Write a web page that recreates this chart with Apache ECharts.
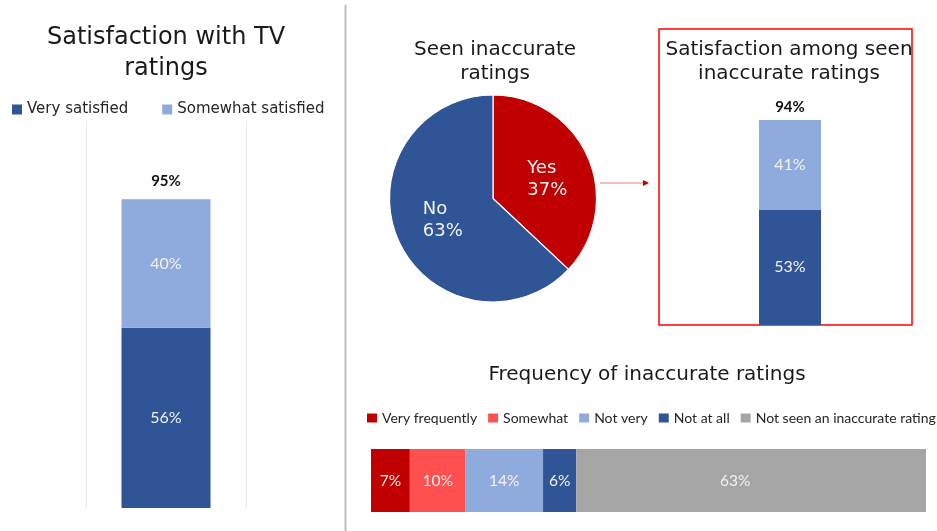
<!DOCTYPE html>
<html><head><meta charset="utf-8">
<script src="https://cdn.jsdelivr.net/npm/echarts@6/dist/echarts.min.js"></script>
<style>html,body{margin:0;padding:0;background:#fff}#c{width:937px;height:531px}</style>
</head><body><div id="c"></div>
<script>
// ---- data ----
const satCategories = ['All respondents'];
const satSeriesNames = ['Very satisfied', 'Somewhat satisfied'];
const satVery = [56];
const satSomewhat = [40];
const satTotal = [95];

const seenNames = ['Yes', 'No'];
const seenValues = [37, 63];

const seenCategories = ['Seen inaccurate ratings'];
const seenVery = [53];
const seenSomewhat = [41];
const seenTotal = [94];

const freqCategories = ['Frequency'];
const freqNames = ['Very frequently', 'Somewhat', 'Not very', 'Not at all', 'Not seen an inaccurate rating'];
const freqValues = [7, 10, 14, 6, 63];

// ---- styles ----
const DARK = '#2F5597', LIGHT = '#8FAADC', RED = '#C00000', LRED = '#FF5050', GREY = '#A5A5A5';
const freqColors = [RED, LRED, LIGHT, DARK, GREY];
const TXT = '#1a1a1a';
const SANS = 'DejaVu Sans';
const LAB = 'Lato';

const chart = echarts.init(document.getElementById('c'), null, {renderer: 'canvas'});

const inLabel = {show: true, position: 'inside', color: '#F2F2F2', fontFamily: LAB, fontSize: 16,
  formatter: p => p.value + '%'};

function stackedColumn(idx, names, very, some, total, bw, dist) {
  return [
    {type: 'bar', name: names[0], xAxisIndex: idx, yAxisIndex: idx, stack: 's' + idx, data: very,
     barWidth: bw, barGap: '-100%', itemStyle: {color: DARK}, label: inLabel},
    {type: 'bar', name: names[1], xAxisIndex: idx, yAxisIndex: idx, stack: 's' + idx, data: some,
     barWidth: bw, barGap: '-100%', itemStyle: {color: LIGHT}, label: inLabel},
    {type: 'bar', name: 'Total ' + idx, xAxisIndex: idx, yAxisIndex: idx, data: total,
     barWidth: bw, barGap: '-100%', itemStyle: {color: 'rgba(0,0,0,0)'}, silent: true,
     label: {show: true, position: 'top', distance: dist, color: '#111', fontFamily: LAB,
             fontWeight: 'bold', fontSize: 15, formatter: p => p.value + '%'}}
  ];
}

const pieOffsets = {Yes: [6, 3], No: [2, 0]};
const pieColors = {Yes: RED, No: DARK};

const series = [
  ...stackedColumn(0, satSeriesNames, satVery, satSomewhat, satTotal, 89, 14),
  ...stackedColumn(1, satSeriesNames, seenVery, seenSomewhat, seenTotal, 62, 5),
  {
    type: 'pie', name: 'Seen inaccurate ratings', center: [493, 198.5], radius: 103.5,
    startAngle: 90, clockwise: true, silent: true,
    itemStyle: {borderColor: '#fff', borderWidth: 1.2},
    labelLine: {show: false},
    label: {show: true, position: 'inside',
      formatter: p => '{t|' + p.name + '}\n{t|' + p.value + '%}',
      rich: {t: {width: 44, align: 'left', fontSize: 18, lineHeight: 22, color: '#F2F2F2', fontFamily: SANS}}},
    data: seenNames.map((n, i) => ({name: n, value: seenValues[i],
      itemStyle: {color: pieColors[n]}, label: {offset: pieOffsets[n]}}))
  },
  ...freqNames.map((n, i) => ({
    type: 'bar', name: n, xAxisIndex: 2, yAxisIndex: 2, stack: 'freq', data: [freqValues[i]],
    barWidth: 63, itemStyle: {color: freqColors[i]},
    label: {show: true, position: 'inside', color: '#F2F2F2', fontFamily: LAB, fontSize: 15.5,
      offset: i === freqNames.length - 1 ? [-16, 0] : [0, 0],
      formatter: p => p.value + '%'}
  }))
];

const option = {
  animation: false,
  backgroundColor: '#fff',
  title: [
    {text: 'Satisfaction with TV\nratings', left: 166, top: 22, textAlign: 'center', padding: 0,
     textStyle: {fontFamily: SANS, fontSize: 24, fontWeight: 'normal', color: TXT, lineHeight: 31}},
    {text: 'Seen inaccurate\nratings', left: 495, top: 38, textAlign: 'center', padding: 0,
     textStyle: {fontFamily: SANS, fontSize: 20, fontWeight: 'normal', color: TXT, lineHeight: 24}},
    {text: 'Satisfaction among seen\ninaccurate ratings', left: 789, top: 38, textAlign: 'center', padding: 0,
     textStyle: {fontFamily: SANS, fontSize: 20, fontWeight: 'normal', color: TXT, lineHeight: 24}},
    {text: 'Frequency of inaccurate ratings', left: 647, top: 363, textAlign: 'center', padding: 0,
     textStyle: {fontFamily: SANS, fontSize: 20, fontWeight: 'normal', color: TXT, lineHeight: 24}}
  ],
  legend: [
    {left: 12, top: 102, padding: 0, itemWidth: 10, itemHeight: 10, itemGap: 34, icon: 'rect',
     selectedMode: false, data: satSeriesNames,
     textStyle: {fontFamily: SANS, fontSize: 15, color: '#262626'}},
    {left: 367, top: 411, padding: 0, itemWidth: 10, itemHeight: 9, itemGap: 11, icon: 'rect',
     selectedMode: false, data: freqNames,
     textStyle: {fontFamily: LAB, fontSize: 14, color: '#262626'}}
  ],
  grid: [
    {left: 86, top: 122, width: 160, height: 386},
    {left: 740, top: 107, width: 100, height: 218},
    {left: 371, top: 449, width: 555, height: 63}
  ],
  xAxis: [
    {gridIndex: 0, type: 'category', data: satCategories, axisLine: {show: false}, axisTick: {show: false},
     axisLabel: {show: false}, splitLine: {show: true, lineStyle: {color: '#E8E8E8', width: 1}}},
    {gridIndex: 1, type: 'category', data: seenCategories, show: false},
    {gridIndex: 2, type: 'value', min: 0, max: 100, show: false}
  ],
  yAxis: [
    {gridIndex: 0, type: 'value', min: 0, max: 120, show: false},
    {gridIndex: 1, type: 'value', min: 0, max: 100, show: false},
    {gridIndex: 2, type: 'category', data: freqCategories, show: false}
  ],
  graphic: [
    {type: 'line', shape: {x1: 345.5, y1: 5, x2: 345.5, y2: 531}, style: {stroke: '#BFBFBF', lineWidth: 2}, silent: true},
    {type: 'rect', shape: {x: 659, y: 29, width: 253, height: 296}, style: {fill: 'none', stroke: '#FF0000', lineWidth: 1.5}, silent: true, z: -1},
    {type: 'line', shape: {x1: 600, y1: 183, x2: 644, y2: 183}, style: {stroke: '#E87C7C', lineWidth: 1}, silent: true},
    {type: 'polygon', shape: {points: [[643, 180], [649, 183], [643, 186]]}, style: {fill: RED}, silent: true}
  ],
  series: series
};
chart.setOption(option);
</script>
</body></html>
